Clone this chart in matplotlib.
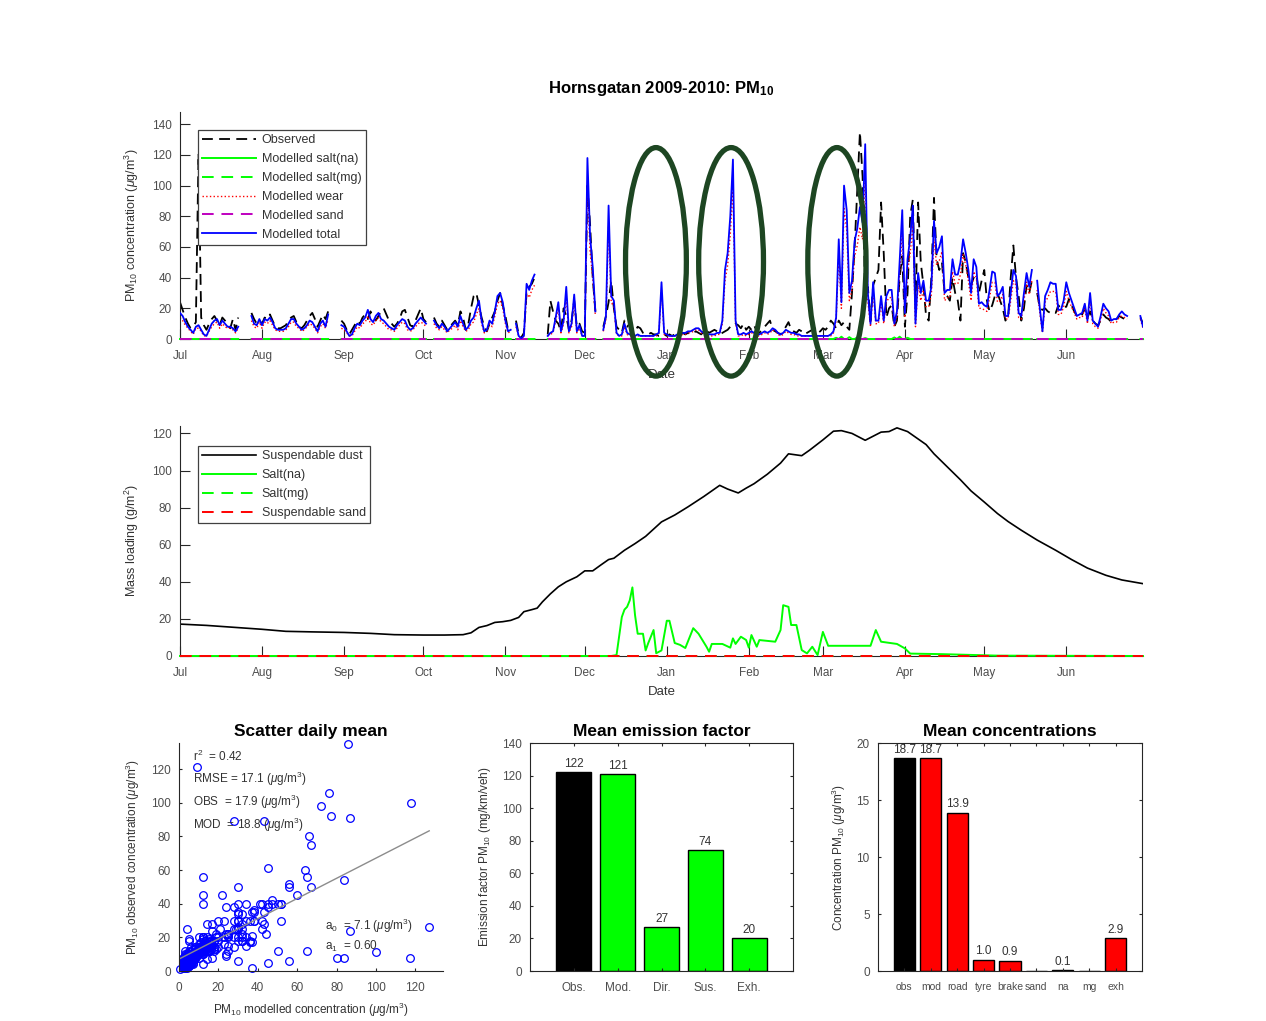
import numpy as np
import matplotlib
matplotlib.use('Agg')
import matplotlib.pyplot as plt
import matplotlib.dates as mdates
from matplotlib.patches import Ellipse

plt.rcParams['font.family'] = ['Liberation Sans', 'DejaVu Sans']
plt.rcParams['mathtext.fontset'] = 'custom'
plt.rcParams['mathtext.rm'] = 'Liberation Sans'
plt.rcParams['mathtext.it'] = 'Liberation Sans:italic'
plt.rcParams['mathtext.bf'] = 'Liberation Sans:bold'

N = np.nan

# ---- daily PM10 concentrations, Hornsgatan Jul 2009 - Jun 2010 (one row per month) ----
month_starts = ['2009-07-01', '2009-08-01', '2009-09-01', '2009-10-01', '2009-11-01', '2009-12-01',
                '2010-01-01', '2010-02-01', '2010-03-01', '2010-04-01', '2010-05-01', '2010-06-01']

obs_by_month = [
    [24, 19, 14, 10, 7, 8, 11, 121, 14, 9, 6, 10, 13, 15, 12, 9, 14, 12, 9, 7, 13, 6, 14, N, N, N, N, 17, 13, 10, 12],
    [10, 14, 13, 16, 12, 8, 7, 7, 8, 9, 12, 14, 15, 11, 8, 7, 9, 12, 15, 17, 13, 8, 12, 16, 13, 18, N, N, N, N, 12],
    [10, 6, 3, 6, 9, 12, 10, 14, 16, 13, 18, 14, 12, 15, 18, 20, 16, 12, 10, 8, 10, 13, 18, 19, 14, 9, 8, 12, 16, 20],
    [13, 11, N, N, 14, 10, 8, 12, 9, 6, 8, 10, 12, 9, 18, 14, 6, 10, 20, 28, 30, 22, 14, 8, 5, 10, 14, 18, 25, 30, 22],
    [15, 6, 5, N, 12, 3, 1, 4, 30, 34, 36, 40, N, N, N, N, 3, 25, 18, 12, 10, 5, 20, 15, 6, 12, 25, 8, 10, 5],
    [4, 100, 75, 40, 18, N, N, 8, 15, 24, 38, 20, 8, 6, 4, 12, 8, 10, 7, 5, 8, 7, 4, 3, 3, 4, 3, 3, 2, 2, 3],
    [2, 3, 2, 3, 2, 3, 4, 3, 4, 3, 4, 5, 4, 3, 5, 6, 4, 5, 6, 5, 3, 4, 5, 6, 8, 8, 10, 9, 7, 10, 6],
    [8, 6, 9, 5, 4, 6, 8, 10, 12, 6, 5, 4, 3, 5, 8, 11, 6, 5, 4, 6, 5, 3, 4, 5, 6, 7, 4, 5],
    [7, 6, 8, 12, 10, 7, 12, 9, 11, 8, 6, 30, 60, 98, 135, 106, 26, 34, 12, 35, 40, 45, 89, 56, 14, 20, 22, 8, 12, 40, 54],
    [8, 30, 80, 91, 20, 89, 50, 35, 15, 12, 40, 92, 52, 45, 50, 30, 28, 25, 40, 30, 25, 12, 56, 50, 40, 35, 40, 42, 30, 38],
    [45, 25, 18, 22, 28, 30, 25, 20, 12, 14, 40, 61, 40, 28, 12, 20, 35, 30, 38, N, 30, 20, 19, 20, 18, 17, 18, 17, 22, 20, 21],
    [21, 26, 22, 18, 15, 14, 16, 20, 14, 18, 12, 10, 9, 12, 16, 14, 13, 11, 12, 13, 15, 14, 13, 14, N, N, N, N, 14, 10],
]

mod_by_month = [
    [17, 15, 11, 8, 6, 4, 8, 9, 6, 3, 2, 6, 10, 12, 13, 9, 12, 10, 8, 8, 7, 5, 8, N, N, N, N, 15, 10, 9, 13],
    [9, 13, 12, 14, 11, 7, 6, 6, 6, 7, 10, 13, 13, 10, 8, 6, 7, 9, 12, 11, 8, 5, 10, 12, 8, 16, N, N, N, N, 9],
    [8, 5, 2, 3, 7, 10, 9, 12, 14, 19, 13, 11, 15, 17, 13, 12, 10, 8, 7, 6, 9, 11, 13, 12, 8, 6, 7, 10, 12, 14],
    [12, 10, N, N, 12, 9, 7, 10, 8, 5, 7, 9, 11, 8, 15, 10, 6, 8, 12, 14, 20, 25, 12, 5, 6, 12, 10, 18, 28, 30, 24],
    [12, 5, 6, N, 10, 2, 0.5, 2, 36, 32, 38, 42, N, N, N, N, 2, 4, 5, 14, 24, 5, 12, 34, 5, 10, 29, 5, 9, 2],
    [2, 118, 67, 47, 18, N, N, 6, 15, 87, 28, 25, 4, 2, 3, 10, 4, 3, 2, 2, 3, 2, 2, 2, 2, 2, 2, 3, 4, 37, 4],
    [3, 2, 2, 2, 3, 3, 4, 4, 5, 5, 6, 7, 7, 5, 4, 3, 3, 3, 3, 4, 4, 12, 45, 56, 80, 117, 12, 3, 3, 4, 3],
    [4, 5, 4, 3, 3, 4, 5, 4, 5, 7, 6, 4, 3, 4, 6, 5, 4, 4, 3, 3, 2, 2, 2, 2, 2, 2, 2, 2],
    [2, 2, 2, 3, 5, 14, 65, 24, 100, 84, 30, 38, 64, 72, 86, 76, 127, 30, 10, 37, 12, 12, 28, 12, 28, 32, 32, 10, 18, 50, 84],
    [17, 52, 66, 87, 10, 43, 30, 38, 25, 25, 34, 77, 56, 60, 67, 30, 32, 32, 52, 42, 42, 50, 65, 56, 45, 30, 52, 47, 23, 24],
    [22, 21, 32, 44, 43, 28, 30, 34, 15, 15, 30, 45, 41, 17, 15, 30, 43, 34, 45, N, 38, 20, 5, 28, 32, 37, 36, 36, 19, 19, 25],
    [37, 30, 25, 20, 15, 16, 17, 23, 12, 30, 12, 10, 8, 15, 23, 20, 18, 12, 13, 13, 16, 18, 16, 15, N, N, N, N, 15, 8],
]

wear_by_month = [
    [14, 12, 9, 7, 5, 3, 7, 7, 5, 2, 2, 5, 8, 10, 11, 7, 10, 8, 7, 7, 6, 4, 7, N, N, N, N, 12, 8, 7, 11],
    [7, 11, 10, 12, 9, 6, 5, 5, 5, 6, 8, 11, 11, 8, 7, 5, 6, 8, 10, 9, 7, 4, 8, 10, 7, 13, N, N, N, N, 7],
    [6, 4, 2, 2, 5, 8, 7, 10, 11, 15, 10, 9, 12, 14, 11, 10, 8, 6, 6, 5, 7, 9, 11, 10, 6, 5, 6, 8, 10, 11],
    [10, 8, N, N, 10, 7, 6, 8, 6, 4, 6, 7, 9, 6, 12, 8, 5, 6, 10, 11, 16, 20, 10, 4, 5, 10, 8, 15, 23, 25, 20],
    [10, 4, 5, N, 8, 2, 0.4, 2, 30, 27, 32, 35, N, N, N, N, 2, 3, 4, 12, 20, 4, 10, 28, 4, 8, 24, 4, 7, 2],
    [2, 100, 57, 40, 15, N, N, 5, 13, 74, 24, 21, 3, 2, 2, 8, 3, 2, 2, 2, 2, 2, 2, 2, 2, 2, 2, 2, 3, 32, 3],
    [2, 2, 2, 2, 2, 2, 3, 3, 4, 4, 5, 6, 6, 4, 3, 2, 2, 2, 2, 3, 3, 10, 38, 48, 68, 100, 10, 2, 2, 3, 2],
    [3, 4, 3, 2, 2, 3, 4, 3, 4, 6, 5, 3, 2, 3, 5, 4, 3, 3, 2, 2, 2, 2, 2, 2, 2, 2, 2, 2],
    [2, 2, 2, 2, 4, 12, 55, 20, 85, 71, 25, 32, 54, 61, 73, 65, 108, 25, 8, 31, 10, 10, 24, 10, 24, 27, 27, 8, 15, 42, 71],
    [14, 44, 56, 74, 8, 36, 25, 32, 21, 21, 29, 65, 48, 51, 57, 25, 27, 27, 44, 36, 36, 42, 55, 48, 38, 25, 44, 40, 20, 20],
    [19, 18, 27, 37, 37, 24, 25, 29, 13, 13, 25, 38, 35, 14, 13, 25, 37, 29, 38, N, 32, 17, 4, 24, 27, 31, 31, 31, 16, 16, 21],
    [31, 25, 21, 17, 13, 14, 14, 20, 10, 25, 10, 8, 7, 13, 20, 17, 15, 10, 11, 11, 14, 15, 14, 13, N, N, N, N, 13, 7],
]

# small modelled salt(na) contribution to concentration (day index from 1 Jul 2009)
salt_conc_days = [248, 250, 253, 256, 259, 270, 272, 275]
salt_conc_vals = [0.8, 1.5, 1.2, 1.0, 0.6, 1.0, 1.5, 0.8]

# ---- mass loading (g/m2), day index from 1 Jul 2009 ----
dust_days = [0, 10, 20, 31, 40, 50, 62, 72, 81, 92, 100, 107, 110, 113, 116, 119, 122, 125, 128, 130,
             133, 135, 137, 140, 143, 146, 150, 153, 156, 159, 162, 164, 168, 172, 176, 182, 187, 192, 198, 204,
             207, 211, 214, 217, 222, 227, 230, 235, 238, 243, 247, 250, 254, 259, 262, 265, 268, 271, 275, 278,
             282, 285, 290, 295, 299, 304, 309, 313, 318, 324, 331, 337, 343, 350, 356, 364]
dust_vals = [17.2, 16.5, 15.5, 14.4, 13.3, 13.0, 12.7, 12.2, 11.5, 11.3, 11.3, 11.5, 12.5, 15.4, 16.4, 18.1, 18.5, 19.2, 20.8, 23.9,
             25.0, 25.8, 29.2, 33.5, 37.3, 40.0, 42.7, 45.9, 45.9, 49.0, 52.0, 52.7, 57.0, 60.6, 64.5, 72.3, 76.0, 80.4, 86.0, 92.0,
             90.0, 87.9, 90.5, 92.9, 98.0, 104.0, 109.0, 108.0, 111.0, 116.5, 121.2, 121.5, 120.0, 116.3, 118.5, 120.7, 121.0, 123.0, 121.0, 118.0,
             114.0, 109.0, 102.0, 95.0, 89.0, 83.0, 76.8, 72.5, 67.8, 62.5, 57.0, 52.0, 47.4, 43.5, 41.0, 39.0]

salt_days = [0, 163, 165, 167, 168, 169, 170, 171, 172, 173, 175, 176, 177, 179, 180, 182, 184, 185, 187, 189,
             191, 194, 196, 199, 200, 201, 205, 208, 209, 210, 212, 214, 215, 216, 218, 219, 225, 227, 228, 230,
             231, 233, 235, 237, 239, 241, 243, 245, 261, 263, 265, 271, 274, 276, 288, 309, 364]
salt_vals = [0, 0, 0.5, 21, 25, 26.5, 30, 37, 22, 12, 12, 3, 7, 14, 1.5, 3, 19, 19, 7, 6,
             4.3, 15, 12, 5, 2.3, 6.5, 6.5, 4.5, 9.5, 6.5, 10.4, 8.6, 4.5, 11.3, 5, 8.6, 7.7, 14, 27.4, 26.5,
             16.7, 16.7, 3.2, 1.4, 5, 0.5, 13, 5.5, 5.5, 14, 7.7, 6.5, 4.1, 1.3, 1, 0.2, 0]

# ---- statistics and bar data ----
fit_a0, fit_a1 = 7.1, 0.60
stats_lines = [r'r$^2$  = 0.42', r'RMSE = 17.1 ($\mu$g/m$^3$)',
               r'OBS  = 17.9 ($\mu$g/m$^3$)', r'MOD  = 18.8 ($\mu$g/m$^3$)']
fit_lines = [r'a$_0$  = 7.1 ($\mu$g/m$^3$)', r'a$_1$  = 0.60']

ef_labels = ['Obs.', 'Mod.', 'Dir.', 'Sus.', 'Exh.']
ef_vals = [122, 121, 27, 74, 20]
ef_colors = ['k', (0, 1, 0), (0, 1, 0), (0, 1, 0), (0, 1, 0)]

conc_labels = ['obs', 'mod', 'road', 'tyre', 'brake', 'sand', 'na', 'mg', 'exh']
conc_vals = [18.7, 18.7, 13.9, 1.0, 0.9, 0.0, 0.1, 0.0, 2.9]
conc_colors = ['k', 'r', 'r', 'r', 'r', 'r', 'r', 'r', 'r']

# annotation ellipses: centre day index, width in days
ellipse_marks = [(179.9, 23.0), (208.3, 24.5), (248.3, 22.0)]


def join_months(by_month):
    d_all, v_all = [], []
    for start, vals in zip(month_starts, by_month):
        d0 = np.datetime64(start)
        d_all += [d0 + np.timedelta64(i, 'D') for i in range(len(vals))]
        v_all += vals
    return np.array(d_all, dtype='datetime64[D]'), np.array(v_all, dtype=float)


dates, obs = join_months(obs_by_month)
_, mod = join_months(mod_by_month)
_, wear = join_months(wear_by_month)
day0 = np.datetime64(month_starts[0])

zero_line = np.where(np.isnan(mod), np.nan, 0.0)
salt_conc = zero_line.copy()
salt_conc[salt_conc_days] = salt_conc_vals

dust_dates = day0 + np.array(dust_days).astype('timedelta64[D]')
salt_dates = day0 + np.array(salt_days).astype('timedelta64[D]')
mass_zero = np.zeros(len(dates))

W, H = 1266, 1021
fig = plt.figure(figsize=(W / 100, H / 100), dpi=100)


def px_axes(x0, y0, x1, y1):
    return fig.add_axes([x0 / W, 1 - y1 / H, (x1 - x0) / W, (y1 - y0) / H])


def matlab_style(ax, box=False, ticklen=7, labelsize=8.5):
    for s in ['top', 'right']:
        ax.spines[s].set_visible(box)
    for s in ax.spines.values():
        s.set_color('0.15')
        s.set_linewidth(0.8)
    ax.tick_params(direction='in', length=ticklen, width=0.8, colors='0.15',
                   labelcolor='0.3', labelsize=labelsize, top=box, right=box)
    ax.tick_params(axis='x', pad=8)
    ax.tick_params(axis='y', pad=6)


green = (0, 1, 0)
txt_col = '0.2'
leg_kw = dict(loc='upper left', borderaxespad=0, fontsize=9, handlelength=4.3,
              labelspacing=0.55, fancybox=False, framealpha=1, edgecolor='0.25',
              borderpad=0.35, handletextpad=0.45)
zl = dict(lw=1.4, clip_on=False, zorder=3)

# ---------------- top: concentrations ----------------
ax1 = px_axes(180, 112, 1143, 339)
ax1.plot(dates, obs, color='k', lw=1.3, ls=(0, (6, 3.5)), label='Observed')
ax1.plot(dates, salt_conc, color=green, label='Modelled salt(na)', **zl)
ax1.plot(dates, zero_line, color=green, ls=(0, (6, 4)), label='Modelled salt(mg)', **zl)
ax1.plot(dates, wear, color='r', lw=1.0, ls=':', label='Modelled wear')
ax1.plot(dates, zero_line, color='m', ls=(0, (6, 4)), label='Modelled sand', **zl)
ax1.plot(dates, mod, color='b', lw=1.3, label='Modelled total', zorder=3.5)
matlab_style(ax1)
for c, w in ellipse_marks:
    cx = mdates.date2num(day0) + c
    ax1.add_patch(Ellipse((cx, 50.3), width=w, height=149, fill=False, ec='#1d4622',
                          lw=3.8, clip_on=False, zorder=10))
ax1.set_xlim(dates[0], dates[-1])
ax1.set_ylim(0, 148)
ax1.set_yticks(np.arange(0, 141, 20))
ax1.xaxis.set_major_locator(mdates.MonthLocator())
ax1.xaxis.set_major_formatter(mdates.DateFormatter('%b'))
ax1.set_xlabel('Date', fontsize=9.5, color=txt_col, labelpad=5)
ax1.set_ylabel(r'PM$_{10}$ concentration ($\mu$g/m$^3$)', fontsize=9, color=txt_col, labelpad=8)
leg = ax1.legend(bbox_to_anchor=(0.0187, 0.921), **leg_kw)
leg.get_frame().set_linewidth(0.9)
leg.set_zorder(5)
for t in leg.get_texts():
    t.set_color(txt_col)
fig.text(661.5 / W, 1 - 88 / H, r'Hornsgatan 2009-2010: PM$_{\mathbf{10}}$', ha='center', va='center',
         fontsize=12, fontweight='bold', color='k')

# ---------------- middle: mass loading ----------------
ax2 = px_axes(180, 426, 1143, 656)
ax2.plot(dust_dates, dust_vals, color='k', lw=1.2, label='Suspendable dust')
ax2.plot(salt_dates, salt_vals, color=green, label='Salt(na)', **zl)
ax2.plot(dates, mass_zero, color=green, ls=(0, (6, 4)), label='Salt(mg)', **zl)
ax2.plot(dates, mass_zero, color='r', ls=(0, (6, 4)), label='Suspendable sand', **zl)
matlab_style(ax2)
ax2.set_xlim(dates[0], dates[-1])
ax2.set_ylim(0, 124)
ax2.set_yticks(np.arange(0, 121, 20))
ax2.xaxis.set_major_locator(mdates.MonthLocator())
ax2.xaxis.set_major_formatter(mdates.DateFormatter('%b'))
ax2.set_xlabel('Date', fontsize=9.5, color=txt_col, labelpad=5)
ax2.set_ylabel(r'Mass loading (g/m$^2$)', fontsize=9, color=txt_col, labelpad=8)
leg2 = ax2.legend(bbox_to_anchor=(0.0187, 0.913), **leg_kw)
leg2.get_frame().set_linewidth(0.9)
leg2.set_zorder(5)
for t in leg2.get_texts():
    t.set_color(txt_col)

# ---------------- scatter ----------------
ax3 = px_axes(179, 743, 443, 971)
ok = ~np.isnan(obs) & ~np.isnan(mod)
ax3.plot(mod[ok], obs[ok], 'o', mfc='none', mec='b', ms=5.5, mew=0.9, clip_on=False)
xfit = np.array([0, np.nanmax(mod)])
ax3.plot(xfit, fit_a0 + fit_a1 * xfit, color='0.55', lw=1)
matlab_style(ax3, ticklen=2.5)
ax3.set_xlim(0, 134)
ax3.set_ylim(0, 135.5)
ax3.set_xticks(np.arange(0, 121, 20))
ax3.set_yticks(np.arange(0, 121, 20))
for i, s in enumerate(stats_lines):
    ax3.text(0.053, 0.943 - i * 0.101, s, transform=ax3.transAxes, fontsize=8.5, color=txt_col, va='center')
for i, s in enumerate(fit_lines):
    ax3.text(0.553, 0.197 - i * 0.088, s, transform=ax3.transAxes, fontsize=8.5, color=txt_col, va='center')
ax3.set_title('Scatter daily mean', fontsize=12.5, fontweight='bold', pad=5)
ax3.set_xlabel(r'PM$_{10}$ modelled concentration ($\mu$g/m$^3$)', fontsize=8.5, color=txt_col, labelpad=5)
ax3.set_ylabel(r'PM$_{10}$ observed concentration ($\mu$g/m$^3$)', fontsize=8.5, color=txt_col, labelpad=6)

# ---------------- mean emission factor ----------------
ax4 = px_axes(530, 743, 793, 971)
pos = np.arange(1, len(ef_vals) + 1)
ax4.bar(pos, ef_vals, width=0.8, color=ef_colors, edgecolor='k', lw=1)
for p, v in zip(pos, ef_vals):
    ax4.text(p, v + 1.5, f'{v:.0f}', ha='center', va='bottom', fontsize=8.5, color=txt_col)
matlab_style(ax4, box=True, ticklen=2.5)
ax4.set_xlim(0, len(ef_vals) + 1)
ax4.set_ylim(0, 140)
ax4.set_xticks(pos)
ax4.set_xticklabels(ef_labels)
ax4.set_yticks(np.arange(0, 141, 20))
ax4.set_title('Mean emission factor', fontsize=12.5, fontweight='bold', pad=5)
ax4.set_ylabel(r'Emission factor PM$_{10}$ (mg/km/veh)', fontsize=8.5, color=txt_col, labelpad=6)

# ---------------- mean concentrations ----------------
ax5 = px_axes(878, 743, 1142, 971)
pos = np.arange(1, len(conc_vals) + 1)
ax5.bar(pos, conc_vals, width=0.8, color=conc_colors, edgecolor='k', lw=1)
for p, v in zip(pos, conc_vals):
    if v > 0:
        ax5.text(p, v + 0.2, f'{v:.1f}', ha='center', va='bottom', fontsize=8.5, color=txt_col)
matlab_style(ax5, box=True, ticklen=2.5)
ax5.set_xlim(0, len(conc_vals) + 1)
ax5.set_ylim(0, 20)
ax5.set_xticks(pos)
ax5.set_xticklabels(conc_labels, fontsize=7.5)
ax5.set_yticks(np.arange(0, 21, 5))
ax5.set_title('Mean concentrations', fontsize=12.5, fontweight='bold', pad=5)
ax5.set_ylabel(r'Concentration PM$_{10}$ ($\mu$g/m$^3$)', fontsize=8.5, color=txt_col, labelpad=6)

fig.savefig('out.png', dpi=100, facecolor='white')
